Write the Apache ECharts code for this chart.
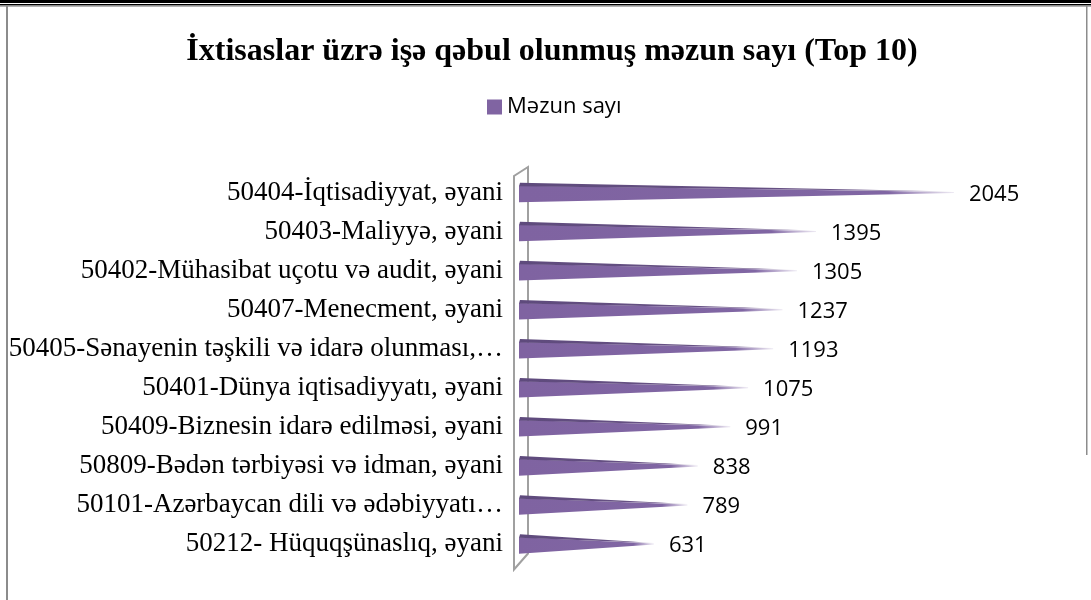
<!DOCTYPE html>
<html>
<head>
<meta charset="utf-8">
<script src="https://cdn.jsdelivr.net/npm/echarts@6/dist/echarts.min.js"></script>
<style>
  html, body { margin: 0; padding: 0; background: #fff; }
  #chart { width: 1091px; height: 600px; }
</style>
</head>
<body>
<div id="chart"></div>
<script>
var categories = [
    '50404-İqtisadiyyat, əyani',
    '50403-Maliyyə, əyani',
    '50402-Mühasibat uçotu və audit, əyani',
    '50407-Menecment, əyani',
    '50405-Sənayenin təşkili və idarə olunması,…',
    '50401-Dünya iqtisadiyyatı, əyani',
    '50409-Biznesin idarə edilməsi, əyani',
    '50809-Bədən tərbiyəsi və idman, əyani',
    '50101-Azərbaycan dili və ədəbiyyatı…',
    '50212- Hüquqşünaslıq, əyani'
];
var values = [2045, 1395, 1305, 1237, 1193, 1075, 991, 838, 789, 631];
var seriesName = 'Məzun sayı';

var chart = echarts.init(document.getElementById('chart'));

// cone drawn from the axis base to the value tip
function renderCone(params, api) {
    var idx = api.value(1);
    var tip = api.coord([api.value(0), idx]);
    var base = api.coord([0, idx]);
    var h = api.size([0, 1])[1] * 0.5;
    var top = tip[1] - h / 2;
    var bottom = tip[1] + h / 2;
    var bx = base[0] - 1;
    var children = [];

    if (params.dataIndex === 0) {
        // 3d wall of the category axis
        var cs = params.coordSys;
        var fx = cs.x - 6, backX = cs.x + 8;
        children.push({
            type: 'polygon',
            z2: 0,
            shape: { points: [[fx, cs.y + cs.height + 6], [fx, cs.y + 3], [backX, cs.y - 6], [backX, cs.y + cs.height - 10]] },
            style: { fill: 'none', stroke: '#a0a0a0', lineWidth: 2 }
        });
    }

    var fade = {
        type: 'linear', x: 0, y: 0, x2: 1, y2: 0,
        colorStops: [
            { offset: 0, color: '#7f63a1' },
            { offset: 0.85, color: '#8066a3' },
            { offset: 1, color: 'rgba(140,115,175,0.15)' }
        ]
    };
    var fadeDark = {
        type: 'linear', x: 0, y: 0, x2: 1, y2: 0,
        colorStops: [
            { offset: 0, color: '#5e4a7c' },
            { offset: 0.85, color: '#6a5487' },
            { offset: 1, color: 'rgba(110,90,140,0.15)' }
        ]
    };
    children.push({
        type: 'polygon',
        z2: 5,
        shape: { points: [[bx, bottom], [bx, top + 3], [tip[0], tip[1] - 0.5], [tip[0], tip[1] + 0.5]] },
        style: { fill: fade }
    });
    children.push({
        type: 'polygon',
        z2: 6,
        shape: { points: [[bx + 1, top], [tip[0], tip[1] - 1], [bx, top + 3.5]] },
        style: { fill: fadeDark }
    });
    children.push({
        type: 'text',
        z2: 7,
        x: tip[0] + 15,
        y: tip[1] + 2,
        style: {
            text: String(api.value(0)),
            fill: '#000',
            font: '22px "Open Sans"',
            verticalAlign: 'middle',
            align: 'left'
        }
    });
    return { type: 'group', children: children };
}

var option = {
    backgroundColor: '#fff',
    animation: false,
    title: {
        text: 'İxtisaslar üzrə işə qəbul olunmuş məzun sayı (Top 10)',
        left: 547,
        textAlign: 'center',
        top: 31,
        textStyle: {
            fontFamily: '"Liberation Serif", "Times New Roman", serif',
            fontWeight: 'bold',
            fontSize: 32,
            color: '#000'
        }
    },
    legend: {
        data: [{ name: seriesName, icon: 'rect' }],
        left: 482,
        top: 91,
        itemWidth: 15,
        itemHeight: 15,
        itemGap: 6,
        textStyle: { fontFamily: '"Open Sans", sans-serif', fontSize: 22, color: '#000' }
    },
    grid: { left: 520, right: 40.5, top: 173, bottom: 36.5 },
    xAxis: {
        type: 'value',
        min: 0,
        max: 2500,
        show: false
    },
    yAxis: {
        type: 'category',
        data: categories,
        inverse: true,
        axisLine: { show: false },
        axisTick: { show: false },
        axisLabel: {
            margin: 17,
            color: '#000',
            fontFamily: '"Liberation Serif", "Times New Roman", serif',
            fontSize: 27
        }
    },
    series: [{
        name: seriesName,
        type: 'custom',
        itemStyle: { color: '#8064a2' },
        encode: { x: 0, y: 1 },
        data: values.map(function (v, i) { return [v, i]; }),
        renderItem: renderCone
    }],
    graphic: [
        { type: 'rect', left: 0, top: 0, z: 100, shape: { width: 1091, height: 3 }, style: { fill: '#000' } },
        { type: 'rect', left: 0, top: 4, z: 100, shape: { width: 1091, height: 1.5 }, style: { fill: '#000' } },
        { type: 'rect', left: 0, top: 5.5, z: 100, shape: { width: 1091, height: 1.2 }, style: { fill: '#9a9a9a' } },
        { type: 'rect', left: 6, top: 5, z: 100, shape: { width: 2, height: 595 }, style: { fill: '#8c8c8c' } },
        { type: 'rect', left: 1086, top: 5, z: 100, shape: { width: 1.5, height: 450 }, style: { fill: '#8c8c8c' } }
    ]
};

chart.setOption(option);
</script>
</body>
</html>
